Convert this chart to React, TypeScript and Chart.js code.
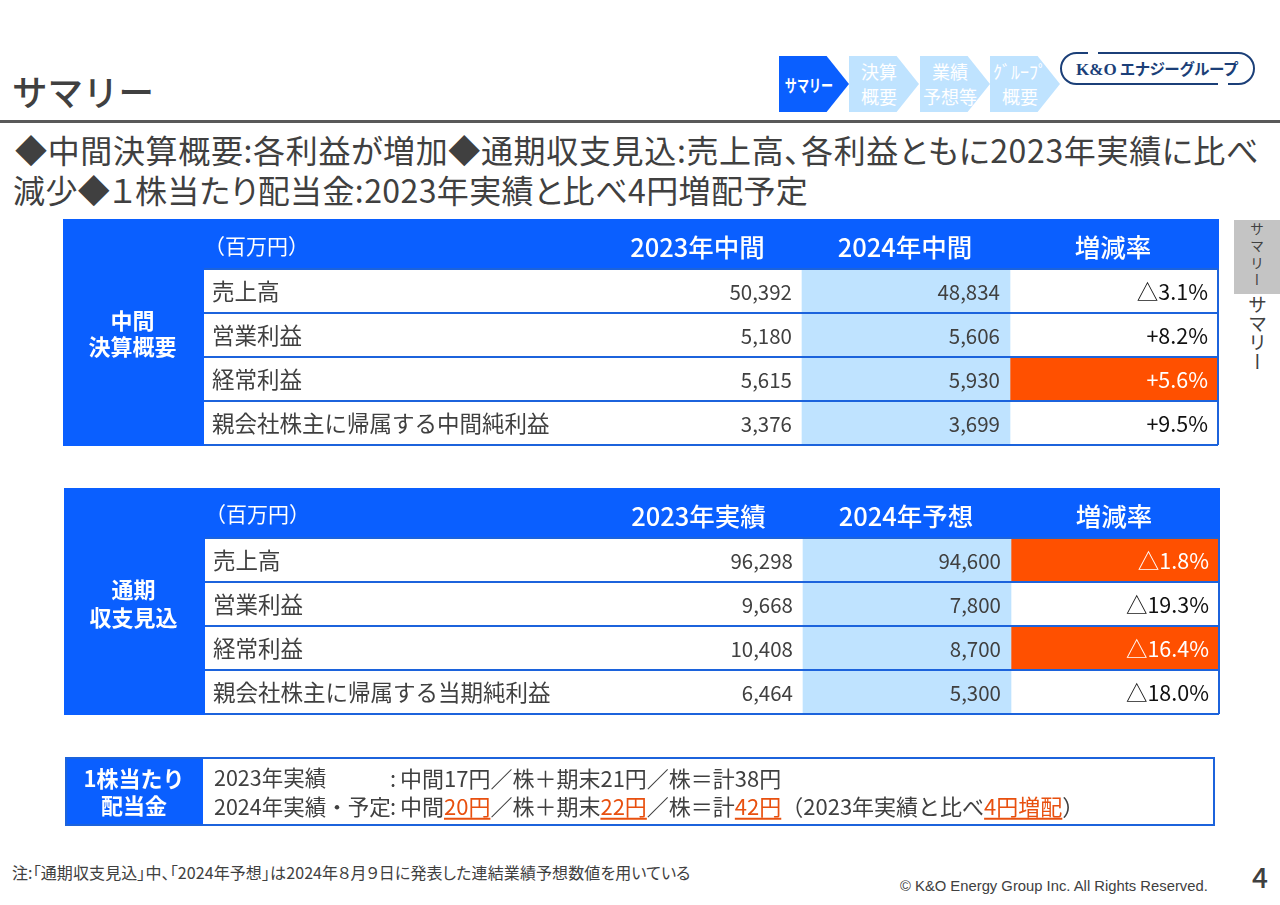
import React, { useRef, useEffect } from "react";
import Chart from "chart.js/auto";

const JP = '"Noto Sans CJK JP", "Noto Sans", sans-serif';
const BLUE = "#0a5fff";
const LIGHT = "#bfe3ff";
const ORANGE = "#ff5000";
const LINE = "#1c63dc";
const TEXT = "#404040";

// table rows
const interimRows = ["売上高", "営業利益", "経常利益", "親会社株主に帰属する中間純利益"];
const fullYearRows = ["売上高", "営業利益", "経常利益", "親会社株主に帰属する当期純利益"];

// values, million yen
const interim2023 = [50392, 5180, 5615, 3376];
const interim2024 = [48834, 5606, 5930, 3699];
const interimChange = [-3.1, 8.2, 5.6, 9.5];
const interimHot = [false, false, true, false];

const full2023 = [96298, 9668, 10408, 6464];
const full2024 = [94600, 7800, 8700, 5300];
const fullChange = [-1.8, -19.3, -16.4, -18.0];
const fullHot = [true, false, true, false];

const interimHeaders = ["2023年中間", "2024年中間", "増減率"];
const fullHeaders = ["2023年実績", "2024年予想", "増減率"];

// dividend per share, 2023 then 2024
const dividendRows = ["2023年実績", "2024年実績・予定"];
const dividendInterim = [17, 20];
const dividendFinal = [21, 22];
const dividendTotal = [38, 42];
const dividendIncrease = 4;

// column edges on the x scale
const columnEdges = [391, 598, 806, 1014];

const fmtChange = (v: number) => (v < 0 ? "△" : "+") + Math.abs(v).toFixed(1) + "%";

// mirrored labels must not take any room from the chart area
const flattenAxis = (s: any) => {
  s.width = 0;
  s.paddingTop = 0;
  s.paddingBottom = 0;
};

type TableProps = {
  left: number;
  top: number;
  rows: string[];
  headers: string[];
  prev: number[];
  cur: number[];
  change: number[];
  hot: boolean[];
  side: string[];
  sideY: number[];
  unitY: number;
  headY: number;
};

const Table = (p: TableProps) => {
  const ref = useRef<HTMLCanvasElement>(null);

  useEffect(() => {
    const tablePlugin = {
      id: "tableText",
      beforeDraw(chart: any) {
        const { ctx, chartArea } = chart;
        ctx.save();
        ctx.fillStyle = BLUE;
        ctx.fillRect(0, 0, chart.width, chartArea.top);
        ctx.fillRect(0, 0, chartArea.left, chart.height);
        ctx.restore();
      },
      afterDraw(chart: any) {
        const { ctx, chartArea, scales } = chart;
        const x = scales.x;
        const y = scales.y;
        ctx.save();
        ctx.strokeStyle = LINE;
        ctx.lineWidth = 2;
        ctx.beginPath();
        ctx.moveTo(chartArea.right, chartArea.top);
        ctx.lineTo(chartArea.right, chartArea.bottom);
        ctx.stroke();

        ctx.textBaseline = "middle";
        // header band
        ctx.fillStyle = "#ffffff";
        ctx.textAlign = "center";
        ctx.font = `500 25.5px ${JP}`;
        p.headers.forEach((h, i) => {
          const cx = (x.getPixelForValue(columnEdges[i]) + x.getPixelForValue(columnEdges[i + 1])) / 2;
          ctx.fillText(h, cx - 1, p.headY);
        });
        ctx.font = `400 21px ${JP}`;
        ctx.textAlign = "left";
        ctx.fillText("（百万円）", chartArea.left, p.unitY);
        // side block
        ctx.font = `700 22px ${JP}`;
        ctx.textAlign = "center";
        p.side.forEach((s, i) => ctx.fillText(s, chartArea.left / 2 - 1, p.sideY[i]));

        // cell values
        ctx.textAlign = "right";
        p.rows.forEach((_, i) => {
          const py = y.getPixelForValue(i) + 1;
          ctx.font = `400 20.5px ${JP}`;
          ctx.fillStyle = TEXT;
          ctx.fillText(p.prev[i].toLocaleString("en-US"), x.getPixelForValue(columnEdges[1]) - 10, py);
          ctx.fillText(p.cur[i].toLocaleString("en-US"), x.getPixelForValue(columnEdges[2]) - 10, py);
          ctx.font = `400 21.5px ${JP}`;
          ctx.fillStyle = p.hot[i] ? "#ffffff" : "#111111";
          ctx.fillText(fmtChange(p.change[i]), x.getPixelForValue(columnEdges[3]) - 10, py);
        });
        ctx.restore();
      },
    };

    const chart = new Chart(ref.current!, {
      type: "bar",
      data: {
        labels: p.rows,
        datasets: [
          {
            label: "current",
            data: p.rows.map(() => [columnEdges[1], columnEdges[2]]),
            backgroundColor: LIGHT,
            barPercentage: 1,
            categoryPercentage: 1,
            grouped: false,
          },
          {
            label: "change",
            data: p.rows.map(() => [columnEdges[2], columnEdges[3]]),
            backgroundColor: p.hot.map((h) => (h ? ORANGE : "#ffffff")),
            barPercentage: 1,
            categoryPercentage: 1,
            grouped: false,
          },
        ],
      } as any,
      options: {
        indexAxis: "y",
        animation: false,
        responsive: false,
        events: [],
        layout: { padding: { left: 141, top: 50, right: 1, bottom: 1 } },
        plugins: { legend: { display: false }, tooltip: { enabled: false } },
        scales: {
          x: { type: "linear", display: false, min: 0, max: columnEdges[3] },
          y: {
            type: "category",
            offset: true,
            afterFit: flattenAxis,
            grid: { color: LINE, lineWidth: 2, drawTicks: false, offset: true, z: 1 },
            border: { display: false },
            ticks: {
              mirror: true,
              padding: 8,
              z: 2,
              autoSkip: false,
              color: TEXT,
              font: { family: JP, size: 22.5 },
            },
          },
        },
      } as any,
      plugins: [tablePlugin],
    });
    return () => chart.destroy();
  }, []);

  return (
    <canvas
      ref={ref}
      width={1156}
      height={227}
      style={{ position: "absolute", left: p.left, top: p.top, width: 1156, height: 227 }}
    />
  );
};

type Seg = { t: string; hot?: boolean };

const dividendLine = (i: number): Seg[] => {
  const hot = i === 1;
  const segs: Seg[] = [
    { t: "中間" },
    { t: `${dividendInterim[i]}円`, hot },
    { t: "／株＋期末" },
    { t: `${dividendFinal[i]}円`, hot },
    { t: "／株＝計" },
    { t: `${dividendTotal[i]}円`, hot },
  ];
  if (hot) {
    segs.push({ t: "（2023年実績と比べ" });
    segs.push({ t: `${dividendIncrease}円増配`, hot: true });
    segs.push({ t: "）" });
  }
  return segs;
};

const DividendTable = () => {
  const ref = useRef<HTMLCanvasElement>(null);

  useEffect(() => {
    const plugin = {
      id: "dividendText",
      beforeDraw(chart: any) {
        const { ctx, chartArea } = chart;
        ctx.save();
        ctx.fillStyle = BLUE;
        ctx.fillRect(0, 0, chartArea.left, chart.height);
        ctx.restore();
      },
      afterDraw(chart: any) {
        const { ctx, chartArea, scales } = chart;
        ctx.save();
        ctx.strokeStyle = LINE;
        ctx.lineWidth = 2;
        ctx.strokeRect(1, 1, chart.width - 2, chart.height - 2);
        ctx.textBaseline = "middle";
        ctx.textAlign = "center";
        ctx.fillStyle = "#ffffff";
        ctx.font = `700 22px ${JP}`;
        ctx.fillText("1株当たり", chartArea.left / 2, 22);
        ctx.fillText("配当金", chartArea.left / 2, 49);

        ctx.textAlign = "left";
        ctx.font = `400 22px ${JP}`;
        dividendRows.forEach((_, i) => {
          const py = scales.y.getPixelForValue(i);
          ctx.fillStyle = TEXT;
          ctx.fillText(":", scales.x.getPixelForValue(187), py);
          let px = scales.x.getPixelForValue(197);
          dividendLine(i).forEach((s) => {
            const w = ctx.measureText(s.t).width;
            ctx.fillStyle = s.hot ? "#e8500f" : TEXT;
            ctx.fillText(s.t, px, py);
            if (s.hot) {
              ctx.fillRect(px, py + 11, w, 2);
            }
            px += w;
          });
        });
        ctx.restore();
      },
    };

    const chart = new Chart(ref.current!, {
      type: "bar",
      data: { labels: dividendRows, datasets: [{ label: "dividend", data: dividendTotal, backgroundColor: "transparent" }] },
      options: {
        indexAxis: "y",
        animation: false,
        responsive: false,
        events: [],
        layout: { padding: { left: 138, top: 7, right: 1, bottom: 5 } },
        plugins: { legend: { display: false }, tooltip: { enabled: false } },
        scales: {
          x: { type: "linear", display: false, min: 0, max: 1011 },
          y: {
            type: "category",
            offset: true,
            afterFit: flattenAxis,
            grid: { display: false },
            border: { display: false },
            ticks: { mirror: true, padding: 11, z: 2, autoSkip: false, color: TEXT, font: { family: JP, size: 21.5 } },
          },
        },
      } as any,
      plugins: [plugin],
    });
    return () => chart.destroy();
  }, []);

  return (
    <canvas
      ref={ref}
      width={1150}
      height={69}
      style={{ position: "absolute", left: 65, top: 757, width: 1150, height: 69 }}
    />
  );
};

const abs = (left: number, top: number, size: number, extra: React.CSSProperties = {}): React.CSSProperties => ({
  position: "absolute",
  left,
  top,
  fontSize: size,
  lineHeight: 1,
  whiteSpace: "nowrap",
  color: TEXT,
  fontFeatureSettings: '"palt"',
  ...extra,
});

const navItems = [
  { left: 779, lines: ["サマリー"], active: true },
  { left: 849, lines: ["決算", "概要"], active: false },
  { left: 920, lines: ["業績", "予想等"], active: false },
  { left: 990, lines: ["ｸﾞﾙｰﾌﾟ", "概要"], active: false },
];

const App = () => {
  return (
    <div
      style={{
        position: "absolute",
        left: 0,
        top: 0,
        width: 1280,
        height: 905,
        overflow: "hidden",
        background: "#fff",
        fontFamily: JP,
      }}
    >
      <div style={abs(12, 73, 35.5, { fontWeight: 500, fontFeatureSettings: "normal" })}>サマリー</div>
      <div style={{ position: "absolute", left: 0, top: 120, width: 1280, height: 3, background: "#595959" }} />

      {navItems.map((n) => (
        <div
          key={n.left}
          style={{
            position: "absolute",
            left: n.left,
            top: 56,
            width: 70,
            height: 56,
            background: n.active ? BLUE : LIGHT,
            clipPath: "polygon(0 0, 68% 0, 100% 50%, 68% 100%, 0 100%)",
            color: "#fff",
            display: "flex",
            flexDirection: "column",
            alignItems: "center",
            justifyContent: "center",
            paddingRight: 10,
            boxSizing: "border-box",
            fontSize: n.active ? 17 : 18,
            fontWeight: n.active ? 700 : 400,
            lineHeight: "25px",
            whiteSpace: "nowrap",
          }}
        >
          {n.lines.map((l) => (
            <div key={l} style={n.active ? { transform: "scaleX(0.71)" } : undefined}>
              {l}
            </div>
          ))}
        </div>
      ))}

      <svg style={{ position: "absolute", left: 1058, top: 50 }} width={200} height={38}>
        <rect x={3} y={3} width={193} height={31} rx={15.5} fill="#fff" stroke="#1b3f78" strokeWidth={2} />
        <rect x={30} y={1} width={10} height={5} fill="#fff" />
        <rect x={160} y={32} width={10} height={5} fill="#fff" />
      </svg>
      <div style={abs(1076, 61, 15.5, { color: "#1b3f78", fontWeight: 700 })}>
        <span style={{ fontFamily: '"Liberation Serif", serif', fontSize: 17 }}>K&amp;O</span> エナジーグループ
      </div>

      <div style={abs(15, 133, 32, { letterSpacing: 0.65 })}>◆中間決算概要:各利益が増加◆通期収支見込:売上高、各利益ともに2023年実績に比べ</div>
      <div style={abs(13, 173, 32, { letterSpacing: 0.4 })}>減少◆１株当たり配当金:2023年実績と比べ4円増配予定</div>

      <Table
        left={63}
        top={219}
        rows={interimRows}
        headers={interimHeaders}
        prev={interim2023}
        cur={interim2024}
        change={interimChange}
        hot={interimHot}
        side={["中間", "決算概要"]}
        sideY={[102, 128]}
        unitY={27}
        headY={28}
      />
      <Table
        left={64}
        top={488}
        rows={fullYearRows}
        headers={fullHeaders}
        prev={full2023}
        cur={full2024}
        change={fullChange}
        hot={fullHot}
        side={["通期", "収支見込"]}
        sideY={[102, 130]}
        unitY={26}
        headY={28}
      />
      <DividendTable />

      <div style={{ position: "absolute", left: 1234, top: 220, width: 46, height: 74, background: "#c4c4c4" }} />
      <div style={abs(1250, 222, 14, { writingMode: "vertical-rl", letterSpacing: 3, fontFeatureSettings: "normal" })}>サマリー</div>
      <div style={abs(1248, 295, 19, { writingMode: "vertical-rl", fontFeatureSettings: "normal" })}>サマリー</div>

      <div style={abs(12, 864, 16, { letterSpacing: 0.1 })}>注:「通期収支見込」中、「2024年予想」は2024年８月９日に発表した連結業績予想数値を用いている</div>
      <div style={abs(900, 879, 14.8, { fontFamily: '"Liberation Sans", sans-serif' })}>© K&amp;O Energy Group Inc. All Rights Reserved.</div>
      <div style={abs(1252, 862, 28, { fontWeight: 500 })}>4</div>
    </div>
  );
};

export default App;
